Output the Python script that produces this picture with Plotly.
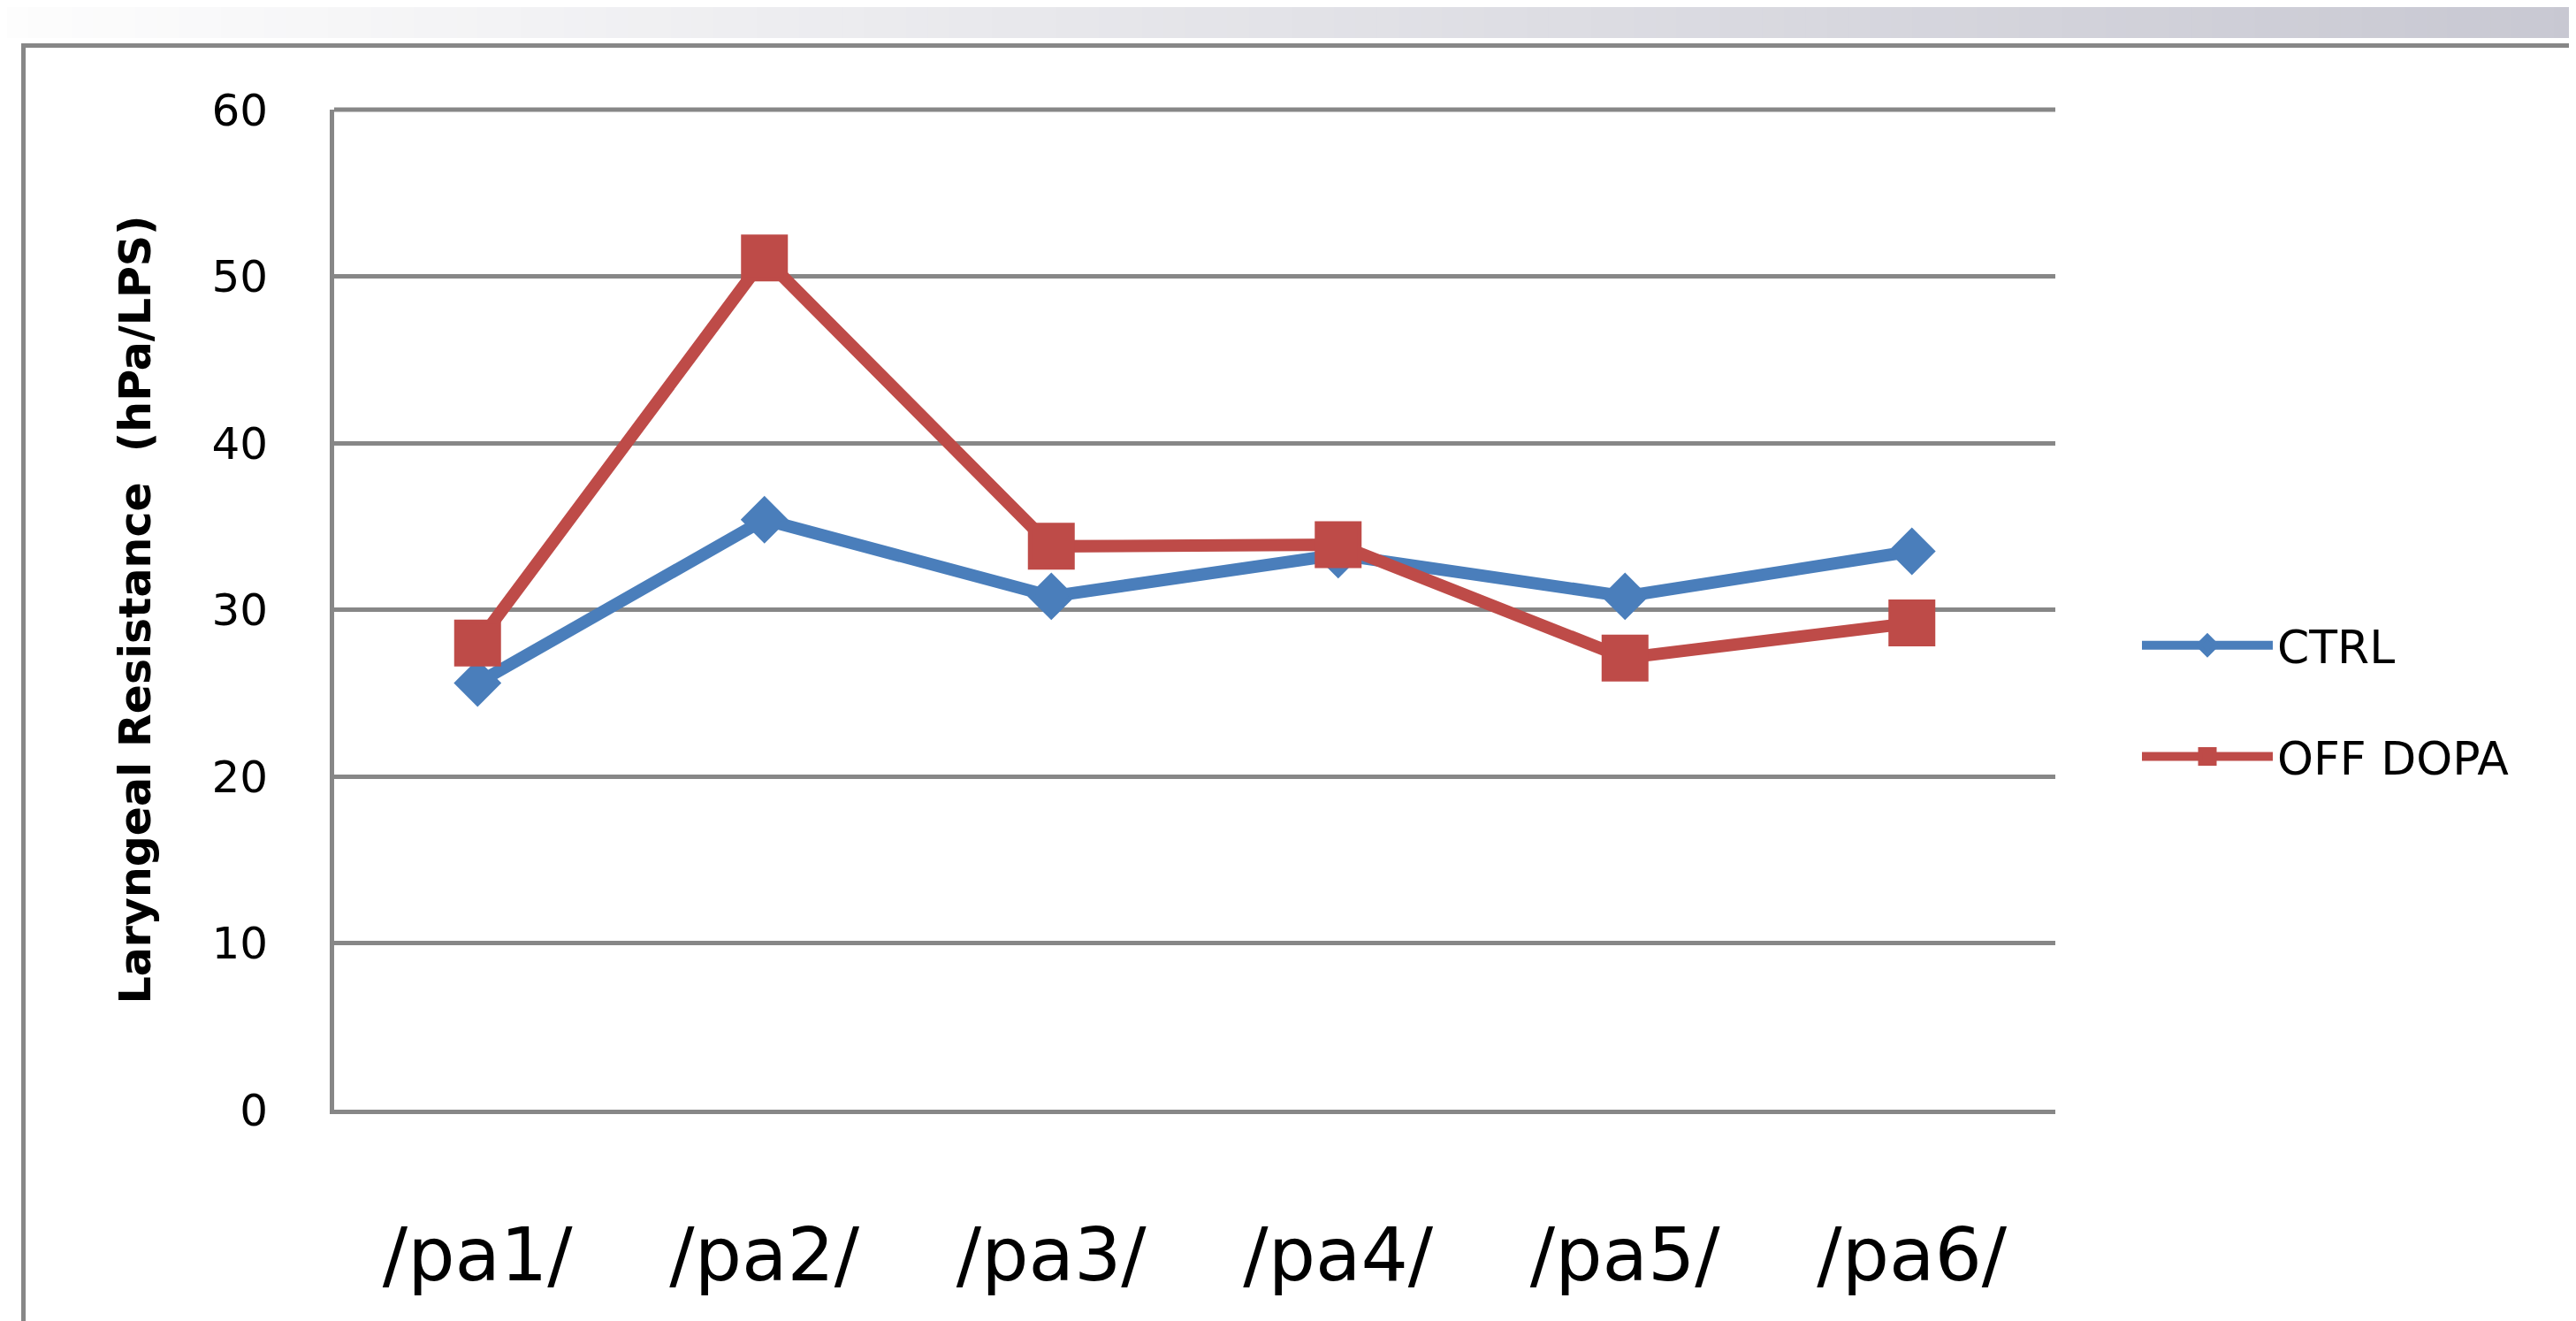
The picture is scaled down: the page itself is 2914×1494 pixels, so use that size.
import plotly.graph_objects as go

# ---- data ----
categories = ["/pa1/", "/pa2/", "/pa3/", "/pa4/", "/pa5/", "/pa6/"]
ctrl = [25.6, 35.4, 30.8, 33.3, 30.8, 33.5]
off_dopa = [28.0, 51.1, 33.8, 33.9, 27.1, 29.2]
y_tick_vals = [0, 10, 20, 30, 40, 50, 60]

W, H = 2914, 1494
OFF = 8                     # page body margin
FW, FH = W - OFF, H - OFF   # figure size


def px(x):
    return (x - OFF) / FW


def py(y):
    return 1 - (y - OFF) / FH


BLUE = "#4A7EBB"
RED = "#BE4B48"
GRID = "#878787"

fig = go.Figure()
fig.add_trace(go.Scatter(
    x=categories, y=ctrl, name="CTRL", mode="lines+markers",
    line=dict(color=BLUE, width=14),
    marker=dict(symbol="diamond", size=36, color=BLUE,
                line=dict(color=BLUE, width=5)),
    legendgroup="ctrl",
))
fig.add_trace(go.Scatter(
    x=categories, y=off_dopa, name="OFF DOPA", mode="lines+markers",
    line=dict(color=RED, width=14),
    marker=dict(symbol="square", size=48, color=RED,
                line=dict(color=RED, width=5)),
    legendgroup="off",
))

# background decoration: gradient band at top + chart-area border
shapes = []
N = 120
c0 = (253, 253, 253)
c1 = (200, 200, 210)
for i in range(N):
    t = (i + 0.5) / N
    col = "rgb(%d,%d,%d)" % tuple(round(a + (b - a) * t) for a, b in zip(c0, c1))
    shapes.append(dict(type="rect", xref="paper", yref="paper",
                       x0=i / N, x1=(i + 1) / N + 0.001,
                       y0=py(43), y1=1.0,
                       fillcolor=col, line=dict(width=0), layer="below"))
shapes.append(dict(type="rect", xref="paper", yref="paper",
                   x0=px(26.5), x1=1.05, y0=-0.05, y1=py(51.5),
                   line=dict(color=GRID, width=5), fillcolor="rgba(0,0,0,0)",
                   layer="below"))
# top edge of plot area (gridline at the maximum of the value axis)
shapes.append(dict(type="line", xref="x domain", yref="y domain",
                   x0=0, x1=1, y0=1, y1=1,
                   line=dict(color=GRID, width=5), layer="below"))

fig.update_layout(
    width=FW, height=FH,
    margin=dict(l=0, r=0, t=0, b=0, autoexpand=False),
    paper_bgcolor="white", plot_bgcolor="white",
    shapes=shapes,
    font=dict(family="DejaVu Sans", color="black"),
    xaxis=dict(
        domain=[px(378), px(2325)], automargin=False,
        type="category", range=[-0.5, 5.5],
        showgrid=False, zeroline=False,
        showline=True, linecolor=GRID, linewidth=5,
        ticks="", ticklabelstandoff=87,
        tickfont=dict(family="DejaVu Sans", size=84, color="black"),
    ),
    yaxis=dict(
        domain=[py(1255), py(124)], automargin=False,
        range=[0, 60], tickvals=y_tick_vals,
        showgrid=True, gridcolor=GRID, gridwidth=5,
        zeroline=False,
        showline=True, linecolor=GRID, linewidth=5,
        ticks="", ticklabelstandoff=60,
        tickfont=dict(family="DejaVu Sans", size=50, color="black"),
        title=dict(text="Laryngeal Resistance  (hPa/LPS)",
                   font=dict(family="DejaVu Sans", size=49, color="black", weight="bold"),
                   standoff=55),
    ),
    legend=dict(
        x=px(2418), y=py(793), xanchor="left", yanchor="middle",
        font=dict(family="DejaVu Sans", size=52, color="black"),
        itemwidth=148, tracegroupgap=55,
        bgcolor="rgba(0,0,0,0)",
    ),
    showlegend=True,
)

fig.write_html("out.html")
